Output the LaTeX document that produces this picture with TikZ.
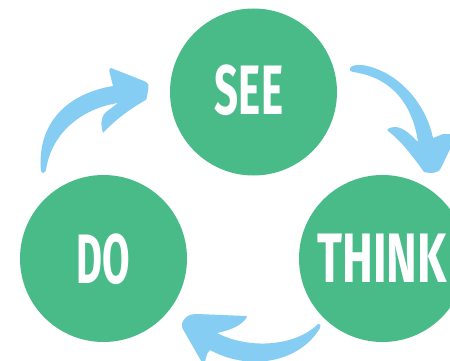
\documentclass[tikz,border=0pt]{standalone}
\usepackage{fontspec}
\setmainfont{Fira Sans}
\definecolor{cgreen}{HTML}{48BB88}
\definecolor{cblue}{HTML}{85CDF3}
\begin{document}
\begin{tikzpicture}[x=1pt,y=-1pt,
  stage/.style={circle,fill=cgreen,minimum size=167pt,inner sep=0pt},
  word/.style={text=white,font=\bfseries\fontsize{70}{70}\selectfont,inner sep=0pt},
  brush/.style={fill=cblue,draw=none}]
\useasboundingbox (0,0) rectangle (450,361);
\clip (0,0) rectangle (450,361);
% circles
\node[stage] (see) at (253.5,92) {};
\node[stage] (do) at (103.5,258.5) {};
\node[stage] (think) at (382.5,258.5) {};
% labels
\node[word] (seet) at (249,90) {\scalebox{0.6}[1]{SEE}};
\node[word] (dot) at (103,259) {\scalebox{0.57}[1]{DO}};
\node[word] (thinkt) at (382,258) {\scalebox{0.66}[1]{THINK}};
% arrow DO -> SEE
\fill[brush] (41,171) .. controls (37,130) and (60,95) .. (113,86)
  -- (110,74) .. controls (109,70) and (109,68) .. (111,68)
  -- (144,81) .. controls (149,83) and (149,86) .. (148,90)
  -- (147,97) .. controls (147,99) and (146,100) .. (144,101)
  .. controls (130,109) and (115,120) .. (103,133)
  .. controls (101,125) and (100,118) .. (106,112)
  -- (118,103)
  .. controls (85,108) and (52,130) .. (46,170)
  .. controls (45,173) and (42,174) .. cycle;
% arrow SEE -> THINK
\fill[brush] (350,68) .. controls (352,65) and (356,65) .. (362,65)
  .. controls (395,70) and (425,100) .. (433,138)
  -- (443,134) -- (452,134) -- (452,145)
  -- (441,168) .. controls (439,172) and (435,173) .. (430,173)
  -- (424,172) .. controls (412,155) and (400,140) .. (388,131)
  .. controls (386,129) and (390,127) .. (396,127)
  .. controls (404,128) and (410,134) .. (418,142)
  .. controls (413,108) and (395,78) .. (353,72)
  .. controls (350,71) and (349,70) .. cycle;
% arrow THINK -> DO
\fill[brush] (318,324) .. controls (296,346) and (250,350) .. (217,333)
  .. controls (232,330) and (242,325) .. (247,317)
  -- (246,316) -- (197,314) .. controls (190,314) and (186,316) .. (183,321)
  .. controls (181,325) and (182,328) .. (184,331)
  -- (204,366) .. controls (206,362) and (205,354) .. (210,350)
  .. controls (250,372) and (300,362) .. (320,328)
  .. controls (321,325) and (320,323) .. cycle;
\end{tikzpicture}
\end{document}
